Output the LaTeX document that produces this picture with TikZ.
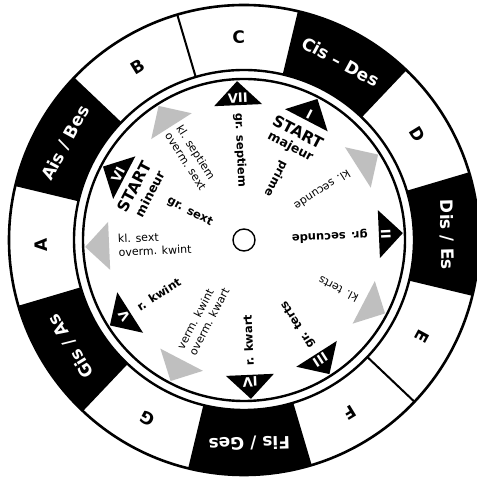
\documentclass[tikz,border=0pt]{standalone}
\usepackage{fontspec}
\setmainfont{DejaVu Sans}
\definecolor{greytri}{gray}{0.75}
\tikzset{
  ringlabel/.style={font=\bfseries\fontsize{17}{19}\selectfont, inner sep=0pt, anchor=center},
  numlabel/.style={font=\bfseries\fontsize{13}{14}\selectfont, text=white, inner sep=0pt, transform shape, rotate=-90},
  boldint/.style={font=\bfseries\fontsize{11.5}{13.5}\selectfont, inner sep=0pt, anchor=west, transform shape, rotate=180},
  normint/.style={font=\fontsize{11}{13.5}\selectfont, inner sep=0pt, anchor=west, align=left, transform shape, rotate=180},
  startlbl/.style={font=\bfseries\fontsize{15.5}{17}\selectfont, inner sep=0pt, transform shape, rotate=-90},
  modelbl/.style={font=\bfseries\fontsize{12.5}{14}\selectfont, inner sep=0pt, transform shape, rotate=-90},
}
\begin{document}
\begin{tikzpicture}[x=1pt,y=1pt]
\useasboundingbox (0,0) rectangle (476,481);
\begin{scope}[shift={(244,241)}]
  \coordinate (O) at (0,0);
  % black sectors of the outer ring
  \foreach \a in {61.5,1.5,-88.5,-148.5,151.5}{
    \fill[black] (\a-15:235) arc[start angle=\a-15, end angle=\a+15, radius=235]
      -- (\a+15:170) arc[start angle=\a+15, end angle=\a-15, radius=170] -- cycle;
  }
  % ring outlines
  \draw[line width=2.6pt] (O) circle[radius=235];
  \draw[line width=2.4pt] (O) circle[radius=170];
  \foreach \a in {16.5,46.5,76.5,106.5,136.5,166.5,196.5,226.5,256.5,286.5,316.5,346.5}{
    \draw[line width=2pt] (\a:170) -- (\a:235);
  }
  % disc
  \draw[line width=2.4pt, fill=white] (O) circle[radius=161];
  \node[draw, circle, line width=1.4pt, minimum size=22pt, inner sep=0pt] (hub) at (O) {};
  % ring labels
  \node[ringlabel, rotate=1.5] (nC) at (91.5:203) {C};
  \node[ringlabel, rotate=-28.5, text=white] (nCis) at (61.5:203) {Cis – Des};
  \node[ringlabel, rotate=-58.5] (nD) at (31.5:203) {D};
  \node[ringlabel, rotate=-88.5, text=white] (nDis) at (1.5:203) {Dis / Es};
  \node[ringlabel, rotate=-118.5] (nE) at (-28.5:203) {E};
  \node[ringlabel, rotate=-148.5] (nF) at (-58.5:203) {F};
  \node[ringlabel, rotate=-178.5, text=white] (nFis) at (-88.5:203) {Fis / Ges};
  \node[ringlabel, rotate=151.5] (nG) at (-118.5:203) {G};
  \node[ringlabel, rotate=121.5, text=white] (nGis) at (-148.5:203) {Gis / As};
  \node[ringlabel, rotate=91.5] (nA) at (181.5:203) {A};
  \node[ringlabel, rotate=61.5, text=white] (nAis) at (151.5:203) {Ais / Bes};
  \node[ringlabel, rotate=31.5] (nB) at (121.5:203) {B};
  % black triangles with numerals
  \foreach \k/\n in {0/I,2/II,4/III,5/IV,7/V,9/VI,11/VII}{
    \begin{scope}[rotate=62.5-30*\k]
      \fill[black] (135,-24) -- (159,0) -- (135,24) -- cycle;
      \node[numlabel] (num\n) at (142,0) {\n};
    \end{scope}
  }
  % grey triangles
  \foreach \k in {1,3,6,8,10}{
    \begin{scope}[rotate=62.5-30*\k]
      \fill[greytri] (135,-24) -- (159,0) -- (135,24) -- cycle;
    \end{scope}
  }
  % bold interval names
  \begin{scope}[rotate=62.5]
    \node[boldint] (tI) at (88,0) {prime};
    \node[startlbl] (startI) at (1:121) {START};
    \node[modelbl] (majeur) at (1:104) {majeur};
  \end{scope}
  \begin{scope}[rotate=2.5]\node[boldint] (tII) at (124,0) {gr. secunde};\end{scope}
  \begin{scope}[rotate=-57.5]\node[boldint] (tIII) at (127,0) {gr. terts};\end{scope}
  \begin{scope}[rotate=-87.5]\node[boldint] (tIV) at (126,0) {r. kwart};\end{scope}
  \begin{scope}[rotate=-147.5]\node[boldint] (tV) at (126,0) {r. kwint};\end{scope}
  \begin{scope}[rotate=152.5]
    \node[boldint] (tVI) at (86,0) {gr. sext};
    \node[startlbl] (startVI) at (1.5:122) {START};
    \node[modelbl] (mineur) at (1.5:105) {mineur};
  \end{scope}
  \begin{scope}[rotate=92.5]\node[boldint] (tVII) at (127,0) {gr. septiem};\end{scope}
  % normal interval names
  \begin{scope}[rotate=32.5]\node[normint] (g1) at (125,0) {kl. secunde};\end{scope}
  \begin{scope}[rotate=-27.5]\node[normint] (g3) at (128,0) {kl. terts};\end{scope}
  \begin{scope}[rotate=-117.5]\node[normint] (g6) at (126,0) {verm. kwint\\overm. kwart};\end{scope}
  \begin{scope}[rotate=-177.5]\node[normint] (g8) at (126,0) {kl. sext\\overm. kwint};\end{scope}
  \begin{scope}[rotate=122.5]\node[normint] (g10) at (131,0) {kl. septiem\\overm. sext};\end{scope}
\end{scope}
\end{tikzpicture}
\end{document}
